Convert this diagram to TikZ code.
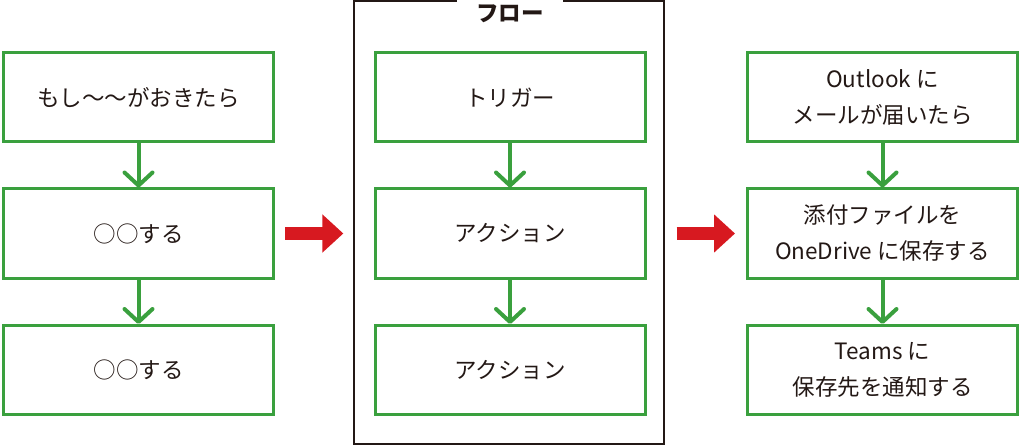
\documentclass[tikz,border=0pt]{standalone}
\usepackage{fontspec}
\setmainfont{Noto Sans CJK JP}
\usetikzlibrary{arrows.meta}
\definecolor{boxgreen}{RGB}{58,160,62}
\definecolor{arrred}{RGB}{215,25,32}
\definecolor{ink}{RGB}{35,24,21}
\tikzset{
  stepbox/.style={draw=boxgreen, line width=3pt, minimum width=270pt, minimum height=89pt,
    align=center, text=ink, font=\fontsize{22.5}{36}\selectfont, inner sep=0pt},
  flowarrow/.style={draw=boxgreen, line width=4pt, -{Straight Barb[length=13pt,width=28pt,round]}},
  bigarrow/.style={draw=arrred, line width=13pt, -{Triangle[length=21pt,width=37pt]}},
}
\begin{document}
\begin{tikzpicture}[x=1pt,y=-1pt]
\useasboundingbox (0,0) rectangle (1024,446);
% frame
\node[draw=ink, line width=1.3pt, minimum width=310pt, minimum height=443pt, inner sep=0pt] (frame) at (509,222.5) {};
\node[fill=white, text=ink, font=\fontsize{22.5}{24}\selectfont\bfseries, inner xsep=19pt, minimum height=28pt] (title) at (510,14) {フロー};
% left column
\node[stepbox] (L1) at (138.5,97.5) {もし〜〜がおきたら};
\node[stepbox] (L2) at (138.5,233.5) {○○する};
\node[stepbox] (L3) at (138.5,370) {○○する};
% middle column
\node[stepbox] (M1) at (510,97.5) {トリガー};
\node[stepbox] (M2) at (510,233.5) {アクション};
\node[stepbox] (M3) at (510,370) {アクション};
% right column
\node[stepbox] (R1) at (882.5,97.5) {Outlook に\\メールが届いたら};
\node[stepbox] (R2) at (882.5,233.5) {添付ファイルを\\OneDrive に保存する};
\node[stepbox] (R3) at (882.5,370) {Teams に\\保存先を通知する};
% green arrows
\draw[flowarrow] (L1) -- (L2);
\draw[flowarrow] (L2) -- (L3);
\draw[flowarrow] (M1) -- (M2);
\draw[flowarrow] (M2) -- (M3);
\draw[flowarrow] (R1) -- (R2);
\draw[flowarrow] (R2) -- (R3);
% red arrows
\coordinate (fw) at (frame.west |- L2.east);
\coordinate (fe) at (frame.east |- R2.west);
\draw[bigarrow] ([xshift=10pt]L2.east) -- ([xshift=-10pt]fw);
\draw[bigarrow] ([xshift=12pt]fe) -- ([xshift=-11pt]R2.west);
\end{tikzpicture}
\end{document}
